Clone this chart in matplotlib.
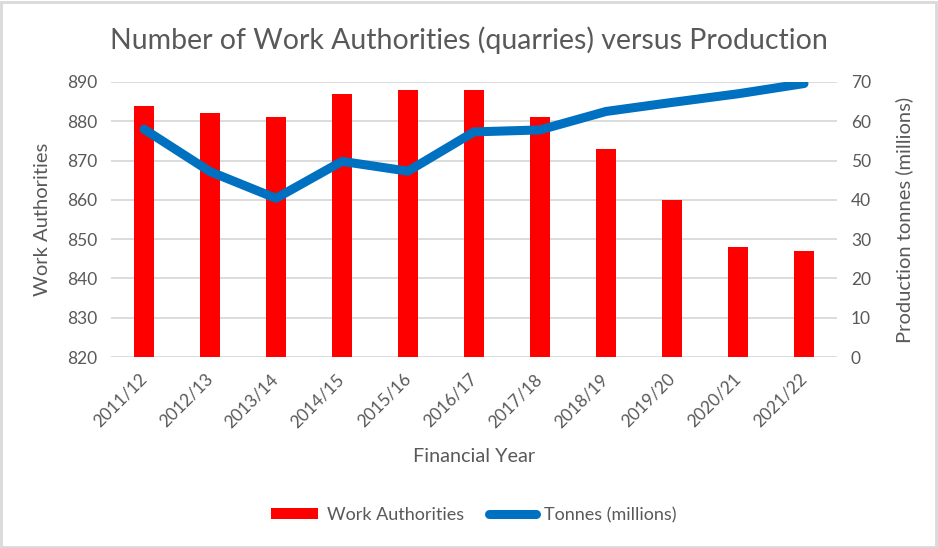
import matplotlib
matplotlib.use("Agg")
import matplotlib.pyplot as plt
from matplotlib.patches import Rectangle

years = ["2011/12", "2012/13", "2013/14", "2014/15", "2015/16", "2016/17",
         "2017/18", "2018/19", "2019/20", "2020/21", "2021/22"]
work_authorities = [884, 882, 881, 887, 888, 888, 881, 873, 860, 848, 847]
tonnes_millions = [58.0, 47.2, 40.4, 49.8, 47.3, 57.3, 57.8, 62.5, 64.8, 67.0, 69.6]

plt.rcParams['font.family'] = ['Lato', 'DejaVu Sans']
grey = '#595959'

fig = plt.figure(figsize=(9.38, 5.48), dpi=100)
ax = fig.add_axes([111/938, 1-357/548, 726/938, 275/548])
ax2 = ax.twinx()

x = list(range(len(years)))
ax.bar(x, work_authorities, width=0.3, color='#FF0000', label='Work Authorities', zorder=2)
ax.set_ylim(820, 890)
ax.set_yticks(range(820, 891, 10))
ax.set_xlim(-0.5, len(years) - 0.5)
ax.set_xticks(x)
ax.set_xticklabels(years, rotation=45, ha='right', va='center', rotation_mode='anchor')
ax.tick_params(axis='x', length=0, pad=14, labelsize=12.5, colors=grey)
ax.tick_params(axis='y', length=0, pad=10, labelsize=12.5, colors=grey)
ax.yaxis.grid(True, color='#D9D9D9', linewidth=1.3, zorder=0)
ax.set_axisbelow(True)
for s in ax.spines.values():
    s.set_visible(False)

ln, = ax2.plot(x, tonnes_millions, color='#0070C0', linewidth=6.5, solid_capstyle='round',
               solid_joinstyle='round', label='Tonnes (millions)', zorder=3)
ax2.set_ylim(0, 70)
ax2.set_yticks(range(0, 71, 10))
ax2.tick_params(axis='y', length=0, pad=10, labelsize=12.5, colors=grey)
for s in ax2.spines.values():
    s.set_visible(False)

fig.text(43/938, 1-219/548, 'Work Authorities', rotation=90, ha='center', va='center',
         fontsize=14.5, color=grey)
fig.text(904/938, 1-220/548, 'Production tonnes (millions)', rotation=90, ha='center',
         va='center', fontsize=14.5, color=grey)
fig.text(474/938, 1-457/548, 'Financial Year', ha='center', va='center', fontsize=14.3, color=grey)
fig.text(469/938, 1-40/548, 'Number of Work Authorities (quarries) versus Production',
         ha='center', va='center', fontsize=20.5, color=grey)

h1, l1 = ax.get_legend_handles_labels()
h2, l2 = ax2.get_legend_handles_labels()
leg = fig.legend(h1 + h2, l1 + l2, loc='center', bbox_to_anchor=(474/938, 1-515/548), ncol=2,
                 frameon=False, fontsize=13, handlelength=2.6, columnspacing=1.4,
                 handletextpad=0.45, handleheight=0.55)
for t in leg.get_texts():
    t.set_color(grey)

fig.patches.append(Rectangle((0.001, 0.002), 0.997, 0.995, transform=fig.transFigure,
                             fill=False, edgecolor='#D9D9D9', linewidth=2))

fig.savefig('out.png', dpi=100)
